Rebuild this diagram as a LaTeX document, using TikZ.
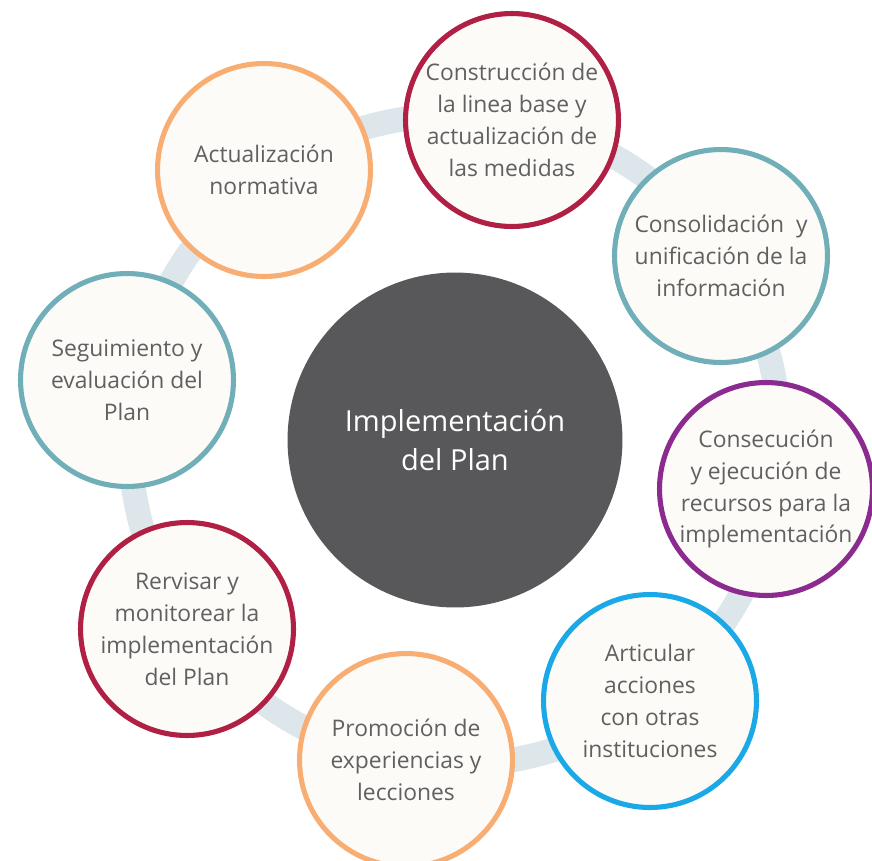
\documentclass[tikz,border=0pt]{standalone}
\usepackage{fontspec}
\setmainfont{Open Sans}
\definecolor{ringgray}{HTML}{DDE6EA}
\definecolor{paper}{HTML}{FCFBF8}
\definecolor{txtgray}{HTML}{606060}
\definecolor{darkcore}{HTML}{58585A}
\definecolor{peach}{HTML}{F8AE73}
\definecolor{crimson}{HTML}{B01F44}
\definecolor{tealish}{HTML}{70AEB8}
\definecolor{plum}{HTML}{8B2A8F}
\definecolor{skyblue}{HTML}{1AA9E6}
\tikzset{
  stage/.style = {circle, draw = #1, line width = 2.9pt, fill = paper,
                  minimum size = 4.26cm, inner sep = 0pt, align = center,
                  text = txtgray, font = \fontsize{13}{18.2}\selectfont},
  core/.style  = {circle, fill = darkcore, minimum size = 6.7cm, align = center,
                  text = white, font = \fontsize{16.5}{22}\selectfont}
}
\begin{document}
\begin{tikzpicture}[x = 0.02cm, y = -0.02cm]
    \useasboundingbox (0, 0) rectangle (872, 860);
    \clip (0, 0) rectangle (872, 860);

    % Ring behind the stages
    \draw [ringgray, line width = 14pt] (455, 440) circle [radius = 325];

    % Central node
    \node [core] (plan) at (455, 440) {Implementación\\del Plan};

    % Stages round the ring
    \node [stage = peach]   (normativa)   at (264, 170) {Actualización\\normativa};
    \node [stage = crimson] (lineabase)   at (512, 120) {Construcción de\\la linea base y\\actualización de\\las medidas};
    \node [stage = tealish] (consolidar)  at (721, 256) {Consolidación\ \ y\\unificación de la\\información};
    \node [stage = plum]    (recursos)    at (766, 489) {Consecución\\y ejecución de\\recursos para la\\implementación};
    \node [stage = skyblue] (articular)   at (650, 701) {Articular\\acciones\\con otras\\instituciones};
    \node [stage = peach]   (promocion)   at (406, 760) {Promoción de\\experiencias y\\lecciones};
    \node [stage = crimson] (monitorear)  at (187, 629) {Rervisar y\\monitorear la\\implementación\\del Plan};
    \node [stage = tealish] (seguimiento) at (127, 380) {Seguimiento y\\evaluación del\\Plan};
\end{tikzpicture}
\end{document}
